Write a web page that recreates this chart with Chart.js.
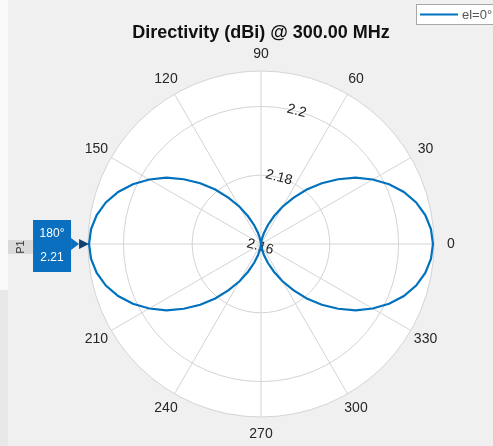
<!DOCTYPE html>
<html>
<head>
<meta charset="utf-8">
<script src="https://cdn.jsdelivr.net/npm/chart.js@4"></script>
<style>
  html, body { margin: 0; padding: 0; background: #f0f0f0; overflow: hidden; }
  #wrap { width: 493px; height: 446px; position: relative; }
  canvas { display: block; }
</style>
</head>
<body>
<div id="wrap"><canvas id="c" width="493" height="446"></canvas></div>
<script>
// ---- data ----
const titleText = 'Directivity (dBi) @ 300.00 MHz';
const seriesLabel = 'el=0°';

// azimuth in degrees, measured counter-clockwise from 0
const angles = [
  0, 5, 10, 15, 20, 25, 30, 35, 40, 45, 50, 55, 60, 65, 70, 75, 80, 85,
  90, 95, 100, 105, 110, 115, 120, 125, 130, 135, 140, 145, 150, 155, 160, 165, 170, 175,
  180, 185, 190, 195, 200, 205, 210, 215, 220, 225, 230, 235, 240, 245, 250, 255, 260, 265,
  270, 275, 280, 285, 290, 295, 300, 305, 310, 315, 320, 325, 330, 335, 340, 345, 350, 355
];

// directivity (dBi) at each azimuth
const directivity = [
  2.2100, 2.2096, 2.2085, 2.2067, 2.2042, 2.2011, 2.1975, 2.1936, 2.1893, 2.1850, 2.1807, 2.1764, 2.1725, 2.1689, 2.1658, 2.1633, 2.1615, 2.1604,
  2.1600, 2.1604, 2.1615, 2.1633, 2.1658, 2.1689, 2.1725, 2.1764, 2.1807, 2.1850, 2.1893, 2.1936, 2.1975, 2.2011, 2.2042, 2.2067, 2.2085, 2.2096,
  2.2100, 2.2096, 2.2085, 2.2067, 2.2042, 2.2011, 2.1975, 2.1936, 2.1893, 2.1850, 2.1807, 2.1764, 2.1725, 2.1689, 2.1658, 2.1633, 2.1615, 2.1604,
  2.1600, 2.1604, 2.1615, 2.1633, 2.1658, 2.1689, 2.1725, 2.1764, 2.1807, 2.1850, 2.1893, 2.1936, 2.1975, 2.2011, 2.2042, 2.2067, 2.2085, 2.2096
];

// angular tick labels (the 180 one sits under the marker tag)
const angleTickLabels = ['0', '30', '60', '90', '120', '150', '210', '240', '270', '300', '330'];
const angleGridStep = 30;

// radial ticks
const radialTicks = [2.16, 2.18, 2.2];
const radialTickLabels = ['2.16', '2.18', '2.2'];
const radialMin = 2.16;
const radialMax = 2.2103;

// data marker
const markerName = 'P1';
const markerAngle = 180;
const markerValue = 2.21;
const markerText = ['180°', '2.21'];

// ---- layout / style ----
const FONT = "'Liberation Sans', Arial, Helvetica, sans-serif";
const LINE_BLUE = '#0072BD';
const GRID = '#d4d4d4';
const TEXT = '#262626';
const START_ANGLE = 15;      // first category sits 15deg clockwise of north (i.e. at 75deg)
const ANGLE_LABEL_GAP = 17;  // angular labels are centred this far outside the rim

// Chart.js radar runs clockwise from startAngle; build category order so angles run counter-clockwise
const order = angles.map((_, i) => ((90 - START_ANGLE) - 5 * i + 720) % 360);
const labels = order.map(a => String(a));
const values = order.map(a => directivity[angles.indexOf(a)]);

const backgroundPlugin = {
  id: 'figureBackground',
  beforeDraw(chart) {
    const { ctx } = chart;
    const s = chart.scales.r;
    ctx.save();
    ctx.fillStyle = '#f0f0f0';
    ctx.fillRect(0, 0, chart.width, chart.height);
    ctx.fillStyle = '#f9f9f9';
    ctx.fillRect(0, 0, 8, 290);
    ctx.fillStyle = '#e8e8e8';
    ctx.fillRect(0, 290, 8, chart.height - 290);
    ctx.beginPath();
    ctx.arc(s.xCenter, s.yCenter, s.drawingArea, 0, Math.PI * 2);
    ctx.fillStyle = '#ffffff';
    ctx.fill();
    ctx.restore();
  }
};

const axisLabelPlugin = {
  id: 'axisLabels',
  beforeDatasetsDraw(chart) {
    const { ctx } = chart;
    const s = chart.scales.r;
    ctx.save();
    ctx.fillStyle = TEXT;
    ctx.font = '14px ' + FONT;
    ctx.textAlign = 'center';
    ctx.textBaseline = 'middle';
    // angular labels, centred just outside the rim
    angleTickLabels.forEach(l => {
      const p = s.getPointPosition(labels.indexOf(l), s.drawingArea + ANGLE_LABEL_GAP);
      ctx.fillText(l, p.x, p.y);
    });
    // radial labels along the first spoke direction, tilted with it
    ctx.translate(s.xCenter, s.yCenter);
    ctx.rotate(START_ANGLE * Math.PI / 180);
    radialTicks.forEach((v, i) => {
      const d = s.getDistanceFromCenterForValue(v);
      ctx.fillText(radialTickLabels[i], 0, -d + (i === 0 ? 3 : 0));
    });
    ctx.restore();
  }
};

const markerPlugin = {
  id: 'dataMarker',
  afterDatasetsDraw(chart) {
    const { ctx } = chart;
    const s = chart.scales.r;
    const idx = labels.indexOf(String(markerAngle));
    const p = s.getPointPositionForValue(idx, markerValue);
    ctx.save();
    // marker triangle on the curve
    ctx.fillStyle = '#173f6b';
    ctx.beginPath();
    ctx.moveTo(p.x, p.y);
    ctx.lineTo(p.x - 10, p.y - 5);
    ctx.lineTo(p.x - 10, p.y + 5);
    ctx.closePath();
    ctx.fill();
    // tag box with pointer
    const bw = 38, bh = 52;
    const bx = p.x - 18 - bw, by = p.y - 24;
    ctx.fillStyle = '#0a6fbf';
    ctx.fillRect(bx, by, bw, bh);
    ctx.beginPath();
    ctx.moveTo(bx + bw, p.y - 6);
    ctx.lineTo(p.x - 10, p.y);
    ctx.lineTo(bx + bw, p.y + 6);
    ctx.closePath();
    ctx.fill();
    ctx.fillStyle = '#ffffff';
    ctx.font = '12px ' + FONT;
    ctx.textAlign = 'center';
    ctx.textBaseline = 'middle';
    ctx.fillText(markerText[0], bx + bw / 2, by + 14);
    ctx.fillText(markerText[1], bx + bw / 2, by + 38);
    // name tab
    ctx.fillStyle = '#dadada';
    ctx.fillRect(8, p.y - 4, bx - 8, 14);
    ctx.translate(21, p.y + 3);
    ctx.rotate(-Math.PI / 2);
    ctx.fillStyle = '#333333';
    ctx.font = '11px ' + FONT;
    ctx.fillText(markerName, 0, 0);
    ctx.restore();
  }
};

const legendPlugin = {
  id: 'legendBox',
  afterDraw(chart) {
    const { ctx } = chart;
    const ds = chart.data.datasets[0];
    ctx.save();
    ctx.fillStyle = '#ffffff';
    ctx.fillRect(416, 4, 100, 21);
    ctx.strokeStyle = '#a8a8a8';
    ctx.lineWidth = 1;
    ctx.strokeRect(416.5, 4.5, 100, 20);
    ctx.strokeStyle = ds.borderColor;
    ctx.lineWidth = 2;
    ctx.beginPath();
    ctx.moveTo(420, 14.5);
    ctx.lineTo(458, 14.5);
    ctx.stroke();
    ctx.fillStyle = '#555555';
    ctx.font = '13px ' + FONT;
    ctx.textBaseline = 'middle';
    ctx.fillText(ds.label, 462, 15);
    ctx.restore();
  }
};

new Chart(document.getElementById('c'), {
  type: 'radar',
  data: {
    labels: labels,
    datasets: [{
      label: seriesLabel,
      data: values,
      borderColor: LINE_BLUE,
      borderWidth: 2.2,
      pointRadius: 0,
      pointHoverRadius: 0,
      fill: false,
      tension: 0
    }]
  },
  options: {
    responsive: false,
    devicePixelRatio: 1,
    animation: false,
    layout: { padding: { left: 79, right: 50, top: 0, bottom: 29 } },
    plugins: {
      legend: { display: false },
      tooltip: { enabled: false },
      title: {
        display: true,
        text: titleText,
        color: '#111111',
        font: { family: FONT, size: 18, weight: 'bold' },
        padding: { top: 22, bottom: 27.4 }
      }
    },
    scales: {
      r: {
        min: radialMin,
        max: radialMax,
        startAngle: START_ANGLE,
        afterBuildTicks(scale) {
          scale.ticks = radialTicks.concat([radialMax]).map(v => ({ value: v }));
        },
        ticks: { display: false },
        grid: { circular: true, color: GRID, lineWidth: 1 },
        angleLines: {
          color: GRID,
          lineWidth: (c) => (order[c.index] % angleGridStep === 0 ? 1 : 0)
        },
        pointLabels: { display: false }
      }
    }
  },
  plugins: [backgroundPlugin, axisLabelPlugin, markerPlugin, legendPlugin]
});
</script>
</body>
</html>
